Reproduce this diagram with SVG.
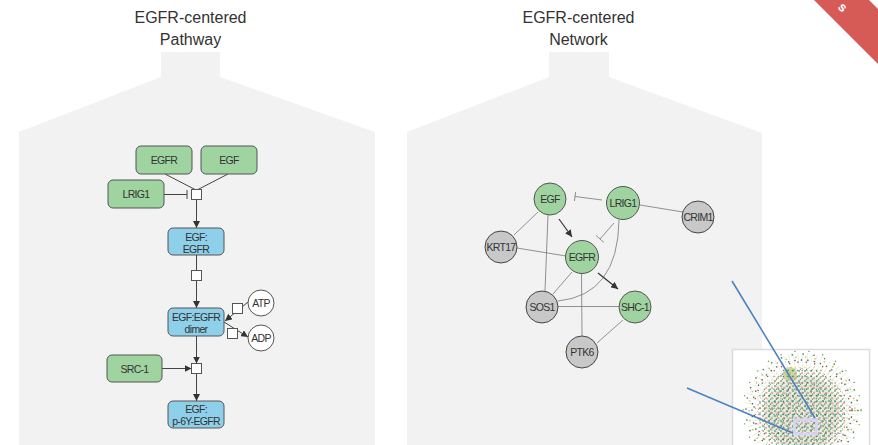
<svg xmlns="http://www.w3.org/2000/svg" width="878" height="445" viewBox="0 0 878 445">
<style>
.bg{fill:#f2f2f2}
.title{font-family:"Liberation Sans",Arial,sans-serif;font-size:16px;fill:#333;text-anchor:middle}
.lbl{font-family:"Liberation Sans",Arial,sans-serif;font-size:10.5px;fill:#333;text-anchor:middle;dominant-baseline:central;letter-spacing:-0.7px}
.g{fill:#9fd4a0;stroke:#555;stroke-width:1}
.b{fill:#8ecfea;stroke:#555;stroke-width:1}
.gr{fill:#c8c8c8;stroke:#444;stroke-width:1}
.w{fill:#fff;stroke:#555;stroke-width:1}
.sq{fill:#fff;stroke:#555;stroke-width:1}
.e{stroke:#444;stroke-width:1;fill:none}
.ne{stroke:#777;stroke-width:0.8;fill:none}
.na{stroke:#333;stroke-width:1.2;fill:none}
.blue{stroke:#4b82c3;stroke-width:1.6}
</style>
<defs>
<marker id="arr" viewBox="0 0 10 10" refX="10" refY="5" markerWidth="7" markerHeight="7" markerUnits="userSpaceOnUse" orient="auto">
<path d="M0,0 L10,5 L0,10 Z" fill="#333"/>
</marker>
<pattern id="pA" width="6" height="5" patternUnits="userSpaceOnUse">
<circle cx="1" cy="1" r="0.8" fill="#2a6e43"/>
<circle cx="4" cy="3" r="0.7" fill="#c83838"/>
<circle cx="2.5" cy="4.2" r="0.6" fill="#3f8a55"/>
</pattern>
<pattern id="pB" width="4.7" height="6.3" patternUnits="userSpaceOnUse">
<circle cx="1" cy="2" r="0.7" fill="#d2c040"/>
<circle cx="3.2" cy="5" r="0.7" fill="#1f6b3c"/>
</pattern>
<pattern id="pC" width="7.3" height="3.9" patternUnits="userSpaceOnUse" patternTransform="rotate(23)">
<circle cx="2" cy="1" r="0.7" fill="#1b5e36"/>
<circle cx="5.5" cy="3" r="0.6" fill="#8fb070"/>
</pattern>
<clipPath id="inset"><rect x="733" y="350" width="136" height="95"/></clipPath>
</defs>

<!-- background funnels -->
<path class="bg" d="M161,52 H220 V77 L375,132 V445 H19 V132 L161,77 Z"/>
<path class="bg" d="M549,52 H609 V77 L762,133 V445 H407 V132 L549,77 Z"/>

<text class="title" x="190.5" y="23">EGFR-centered</text>
<text class="title" x="190.5" y="44.5">Pathway</text>
<text class="title" x="578.5" y="23">EGFR-centered</text>
<text class="title" x="578.5" y="44.5">Network</text>

<!-- ribbon -->
<g id="ribbon">
<polygon points="814,0 869,0 878,9 878,64" fill="#d65a56"/>
<text transform="translate(843,7) rotate(45)" font-family="Liberation Sans,Arial,sans-serif" font-weight="bold" font-size="13" fill="#fff" text-anchor="middle" dominant-baseline="central">s</text>
</g>

<!-- pathway connectors -->
<g id="pathway-connectors">
<line class="e" x1="165" y1="174" x2="196" y2="190"/>
<line class="e" x1="228" y1="174" x2="197" y2="190"/>
<line class="e" x1="164" y1="194.5" x2="187" y2="194.5"/>
<line class="e" x1="187" y1="190" x2="187" y2="199"/>
<line class="e" x1="196.5" y1="199.5" x2="196.5" y2="228" marker-end="url(#arr)"/>
<line class="e" x1="196.5" y1="255" x2="196.5" y2="271"/>
<line class="e" x1="196.5" y1="280.5" x2="196.5" y2="308" marker-end="url(#arr)"/>
<line class="e" x1="248" y1="302" x2="225" y2="321" marker-end="url(#arr)"/>
<line class="e" x1="224" y1="322" x2="248" y2="337" marker-end="url(#arr)"/>
<line class="e" x1="196.5" y1="336" x2="196.5" y2="363.5" marker-end="url(#arr)"/>
<line class="e" x1="162" y1="368.5" x2="191.5" y2="368.5" marker-end="url(#arr)"/>
<line class="e" x1="196.5" y1="373.5" x2="196.5" y2="401" marker-end="url(#arr)"/>
<rect class="sq" x="191.5" y="189.5" width="10" height="10"/>
<rect class="sq" x="191.5" y="270.5" width="10" height="10"/>
<rect class="sq" x="232.5" y="303.5" width="10" height="10"/>
<rect class="sq" x="227.5" y="328.5" width="10" height="10"/>
<rect class="sq" x="191.5" y="363.5" width="10" height="10"/>
</g>

<!-- pathway nodes -->
<g id="p-egfr"><rect class="g" x="136" y="146" width="56" height="28" rx="5"/><text class="lbl" x="164" y="160">EGFR</text></g>
<g id="p-egf"><rect class="g" x="201" y="146" width="56" height="28" rx="5"/><text class="lbl" x="229" y="160">EGF</text></g>
<g id="p-lrig1"><rect class="g" x="108" y="180" width="56" height="28" rx="5"/><text class="lbl" x="136" y="194">LRIG1</text></g>
<g id="p-egf-egfr"><rect class="b" x="168" y="228" width="56" height="27" rx="5"/><text class="lbl" x="196" y="237">EGF:</text><text class="lbl" x="196" y="248.5">EGFR</text></g>
<g id="p-dimer"><rect class="b" x="168" y="308" width="56" height="28" rx="5"/><text class="lbl" x="196" y="316.5">EGF:EGFR</text><text class="lbl" x="196" y="329">dimer</text></g>
<g id="p-atp"><circle class="w" cx="261" cy="303" r="13"/><text class="lbl" x="261" y="303">ATP</text></g>
<g id="p-adp"><circle class="w" cx="261" cy="338" r="13"/><text class="lbl" x="261" y="338">ADP</text></g>
<g id="p-src1"><rect class="g" x="107" y="355" width="55" height="27" rx="5"/><text class="lbl" x="134.5" y="368.5">SRC-1</text></g>
<g id="p-final"><rect class="b" x="168" y="401" width="56" height="27" rx="5"/><text class="lbl" x="196" y="408.5">EGF:</text><text class="lbl" x="196" y="421">p-6Y-EGFR</text></g>

<!-- network connectors -->
<g id="network-connectors">
<line class="ne" x1="602" y1="200" x2="575" y2="196.5"/>
<line class="ne" x1="575" y1="192" x2="575" y2="201" transform="rotate(7 575 196.5)"/>
<line class="ne" x1="640" y1="205" x2="683" y2="212"/>
<line class="na" x1="559" y1="219" x2="572" y2="237" marker-end="url(#arr)"/>
<line class="ne" x1="614" y1="223" x2="600" y2="239"/>
<line class="ne" x1="596" y1="235.5" x2="604" y2="242.5"/>
<path class="ne" d="M619,220 Q618,295 558,301"/>
<line class="ne" x1="538" y1="212" x2="514" y2="235"/>
<line class="ne" x1="548" y1="215" x2="545" y2="291"/>
<line class="ne" x1="517" y1="248" x2="566" y2="256"/>
<line class="ne" x1="572" y1="272" x2="553" y2="294"/>
<line class="ne" x1="581.5" y1="273" x2="582" y2="336"/>
<line class="na" x1="598" y1="273" x2="618" y2="289" marker-end="url(#arr)"/>
<line class="ne" x1="558" y1="306.5" x2="619" y2="306.5"/>
<line class="ne" x1="623" y1="320" x2="597" y2="343"/>
</g>

<!-- network nodes -->
<g id="n-egf"><circle class="g" cx="550" cy="199" r="16"/><text class="lbl" x="550" y="199">EGF</text></g>
<g id="n-lrig1"><circle class="g" cx="623" cy="203" r="16.5"/><text class="lbl" x="623" y="203">LRIG1</text></g>
<g id="n-crim1"><circle class="gr" cx="698" cy="217" r="16"/><text class="lbl" x="698" y="217">CRIM1</text></g>
<g id="n-krt17"><circle class="gr" cx="501" cy="247" r="16"/><text class="lbl" x="501" y="247">KRT17</text></g>
<g id="n-egfr"><circle class="g" cx="582" cy="257" r="16.5"/><text class="lbl" x="582" y="257">EGFR</text></g>
<g id="n-sos1"><circle class="gr" cx="542" cy="307" r="16"/><text class="lbl" x="542" y="307">SOS1</text></g>
<g id="n-shc1"><circle class="g" cx="635" cy="307" r="16"/><text class="lbl" x="635" y="307">SHC-1</text></g>
<g id="n-ptk6"><circle class="gr" cx="582" cy="352" r="16"/><text class="lbl" x="582" y="352">PTK6</text></g>

<!-- inset hairball -->
<g id="inset-view">
<rect x="732.5" y="349.5" width="137" height="100" fill="#fff" stroke="#dcdcdc" stroke-width="1.5"/>
<g clip-path="url(#inset)">
<circle cx="802" cy="410" r="42" fill="none" stroke="#cfd3cc" stroke-width="30" stroke-dasharray="0.5 3.1" opacity="0.6"/>
<circle cx="802" cy="413" r="38" fill="#e4e7e2" opacity="0.8"/>
<circle cx="802" cy="412" r="44" fill="url(#pA)"/>
<circle cx="802" cy="412" r="47" fill="url(#pB)" opacity="0.85"/>
<circle cx="802" cy="415" r="34" fill="url(#pC)"/>
<circle cx="802" cy="410" r="50" fill="none" stroke="#2f7a48" stroke-width="1.4" stroke-dasharray="1.4 5.1"/>
<circle cx="802" cy="410" r="53" fill="none" stroke="#d0bf40" stroke-width="1.4" stroke-dasharray="1.4 8.3"/>
<circle cx="802" cy="410" r="56" fill="none" stroke="#2a6e43" stroke-width="1.3" stroke-dasharray="1.3 9.7"/>
<circle cx="802" cy="410" r="48" fill="none" stroke="#c83838" stroke-width="1.3" stroke-dasharray="1.3 7.2"/>
<circle cx="802" cy="410" r="59" fill="none" stroke="#5a9a55" stroke-width="1.2" stroke-dasharray="1.2 13"/>
<circle cx="790" cy="374" r="7" fill="#b8c888" opacity="0.7"/>
<circle cx="790" cy="374" r="7" fill="url(#pB)"/>
</g>
<rect x="794.5" y="420" width="22" height="14" fill="none" stroke="#d8d2f4" stroke-width="3"/>
</g>

<!-- zoom lines -->
<g id="zoom-lines">
<line class="blue" x1="732" y1="281" x2="815" y2="418"/>
<line class="blue" x1="687" y1="388" x2="793" y2="433"/>
</g>
</svg>
